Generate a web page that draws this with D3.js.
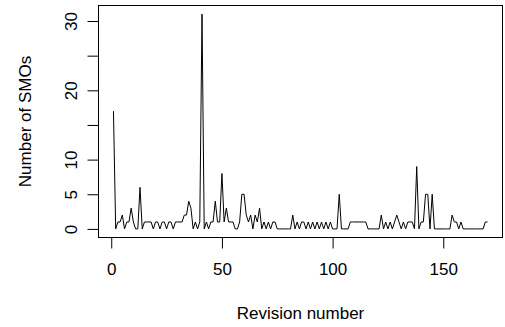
<!DOCTYPE html>
<html>
<head>
<meta charset="utf-8">
<script src="https://cdn.jsdelivr.net/npm/d3@7"></script>
<style>
  body { margin: 0; background: #fff; }
  svg { display: block; font-family: "Liberation Sans", Arial, sans-serif; }
</style>
</head>
<body>
<svg width="505" height="327"></svg>
<script>
// number of SMOs per revision, revisions 1..170
var smoCounts = [
  17, 0, 1, 1, 2, 0, 1, 1, 3, 1,
  0, 0, 6, 0, 1, 1, 1, 1, 0, 1,
  1, 0, 1, 1, 0, 1, 1, 0, 1, 1,
  1, 1, 2, 2, 4, 3, 0, 1, 0, 1,
  31, 0, 1, 0, 1, 1, 4, 1, 1, 8,
  1, 3, 1, 1, 1, 0, 0, 1, 5, 5,
  2, 1, 2, 0, 2, 1, 3, 0, 1, 0,
  1, 0, 1, 1, 0, 0, 0, 0, 0, 0,
  0, 2, 0, 1, 0, 1, 1, 0, 1, 0,
  1, 0, 1, 0, 1, 0, 1, 0, 1, 0,
  0, 0, 5, 0, 0, 0, 0, 1, 1, 1,
  1, 1, 1, 1, 1, 0, 0, 0, 0, 0,
  0, 2, 0, 1, 0, 1, 0, 1, 2, 1,
  0, 1, 0, 1, 1, 1, 0, 9, 0, 1,
  1, 5, 5, 0, 5, 0, 0, 0, 0, 0,
  0, 0, 0, 2, 1, 1, 0, 1, 0, 0,
  0, 0, 0, 0, 0, 0, 0, 0, 1, 1
];
var xTicks = [0, 50, 100, 150];
var yTicks = [0, 5, 10, 15, 20, 25, 30];
var yLabels = [0, 5, 10, 20, 30];   // R drops 15 and 25

var svg = d3.select('svg');

// plot region (R style, 4% padding on the data range)
var box = { left: 98.5, right: 502.5, top: 5.5, bottom: 237.5 };

var n = smoCounts.length;
var xPad = (n - 1) * 0.04;
var yMax = d3.max(smoCounts);
var yPad = yMax * 0.04;

var xScale = d3.scaleLinear()
  .domain([1 - xPad, n + xPad])
  .range([box.left, box.right]);

var yScale = d3.scaleLinear()
  .domain([-yPad, yMax + yPad])
  .range([box.bottom, box.top]);

// frame
svg.append('rect')
  .attr('x', box.left)
  .attr('y', box.top)
  .attr('width', box.right - box.left)
  .attr('height', box.bottom - box.top)
  .attr('fill', 'none')
  .attr('stroke', '#000')
  .attr('stroke-width', 1);

// x axis
var xAxis = svg.append('g')
  .attr('transform', 'translate(0,' + box.bottom + ')')
  .call(d3.axisBottom(xScale).tickValues(xTicks).tickSize(11).tickPadding(14).tickSizeOuter(0));
xAxis.select('.domain')
  .attr('d', 'M' + xScale(xTicks[0]) + ',0H' + xScale(xTicks[xTicks.length - 1]));
xAxis.selectAll('text')
  .attr('font-size', 17)
  .attr('font-family', '"Liberation Sans", Arial, sans-serif')
  .attr('fill', '#000');

// y axis
var yAxis = svg.append('g')
  .attr('transform', 'translate(' + box.left + ',0)')
  .call(d3.axisLeft(yScale).tickValues(yTicks).tickSize(11).tickSizeOuter(0)
    .tickFormat(function (d) { return yLabels.indexOf(d) >= 0 ? d : ''; }));
yAxis.select('.domain')
  .attr('d', 'M0,' + yScale(yTicks[0]) + 'V' + yScale(yTicks[yTicks.length - 1]));
yAxis.selectAll('text')
  .attr('font-size', 17)
  .attr('font-family', '"Liberation Sans", Arial, sans-serif')
  .attr('fill', '#000')
  .attr('x', null)
  .attr('dy', null)
  .attr('text-anchor', 'middle')
  .attr('transform', 'translate(-22,0) rotate(-90)');

// the series
var line = d3.line()
  .x(function (d, i) { return xScale(i + 1); })
  .y(function (d) { return yScale(d); });

svg.append('path')
  .datum(smoCounts)
  .attr('d', line)
  .attr('fill', 'none')
  .attr('stroke', '#000')
  .attr('stroke-width', 1);

// titles
svg.append('text')
  .attr('x', (box.left + box.right) / 2)
  .attr('y', 319)
  .attr('text-anchor', 'middle')
  .attr('font-size', 17)
  .text('Revision number');

svg.append('text')
  .attr('transform', 'translate(31,' + (box.top + box.bottom) / 2 + ') rotate(-90)')
  .attr('text-anchor', 'middle')
  .attr('font-size', 17)
  .text('Number of SMOs');
</script>
</body>
</html>
